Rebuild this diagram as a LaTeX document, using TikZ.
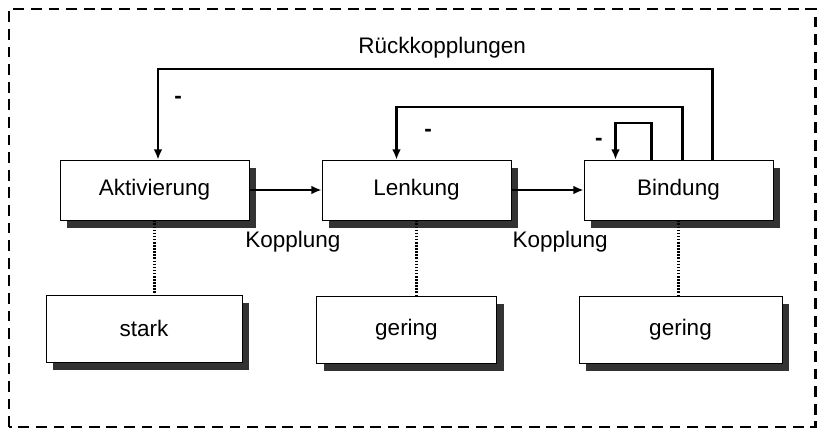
\documentclass[tikz,border=0pt]{standalone}
\usepackage{fontspec}
\setmainfont{Liberation Sans}
\usetikzlibrary{positioning,shadows,arrows.meta}

\begin{document}
\begin{tikzpicture}[node distance=6.55cm,
        font=\fontsize{16pt}{19pt}\selectfont,
        box/.style={draw, line width=0.5pt, fill=white, inner sep=0pt,
            minimum width=4.725cm, minimum height=1.5cm,
            drop shadow={shadow xshift=0.18cm, shadow yshift=-0.19cm, fill=black!80, opacity=1}},
        pfeil/.style={-{Latex[length=2.6mm,width=2.2mm]}, line width=1.6pt},
        verb/.style={line width=1.8pt, dash pattern=on 1.1pt off 1.1pt}]

    \useasboundingbox (-3.8625,-5.975) rectangle (16.5875,4.75);
    \draw[line width=1.7pt, dash pattern=on 0.27cm off 0.17cm] (-3.6375,-5.925) rectangle (16.525,4.525);

    \node[box] (A) at (0, 0) {Aktivierung};
    \node[box, right of=A] (L) {Lenkung};
    \node[box, right of=L] (B) {Bindung};

    \node[box, minimum width=4.9cm, minimum height=1.675cm] (a) at (-0.2625, -3.4625) {stark};
    \node[box, minimum width=4.5cm, minimum height=1.675cm] (l) at (6.3, -3.4875) {gering};
    \node[box, minimum width=5.075cm, minimum height=1.675cm] (b) at (13.15, -3.4875) {gering};

    \draw[pfeil] (A) -- (L);
    \draw[pfeil] (L) -- (B);
    \node (K1) at (3.46, -1.3) {Kopplung};
    \node (K2) at (10.14, -1.3) {Kopplung};

    \draw[verb] (A.south) -- (A.south |- a.north);
    \draw[verb] (L.south) -- (L.south |- l.north);
    \draw[verb] (B.south) -- (B.south |- b.north);

    % negative feedback loops
    \draw[pfeil] ([xshift=0.85cm]B.north) -- ++(0,2.275) -| ([xshift=0.0875cm]A.north);
    \draw[pfeil] ([xshift=0.1cm]B.north) -- ++(0,1.325) -| ([xshift=-0.5cm]L.north);
    \draw[pfeil] ([xshift=-0.675cm]B.north) -- ++(0,0.925) -| ([xshift=-1.575cm]B.north);

    \node (R) at (7.19, 3.55) {Rückkopplungen};
    \node[font=\fontsize{16pt}{19pt}\bfseries] (M1) at (0.5875, 2.25) {-};
    \node[font=\fontsize{16pt}{19pt}\bfseries] (M2) at (6.84, 1.425) {-};
    \node[font=\fontsize{16pt}{19pt}\bfseries] (M3) at (11.11, 1.2) {-};

\end{tikzpicture}
\end{document}
